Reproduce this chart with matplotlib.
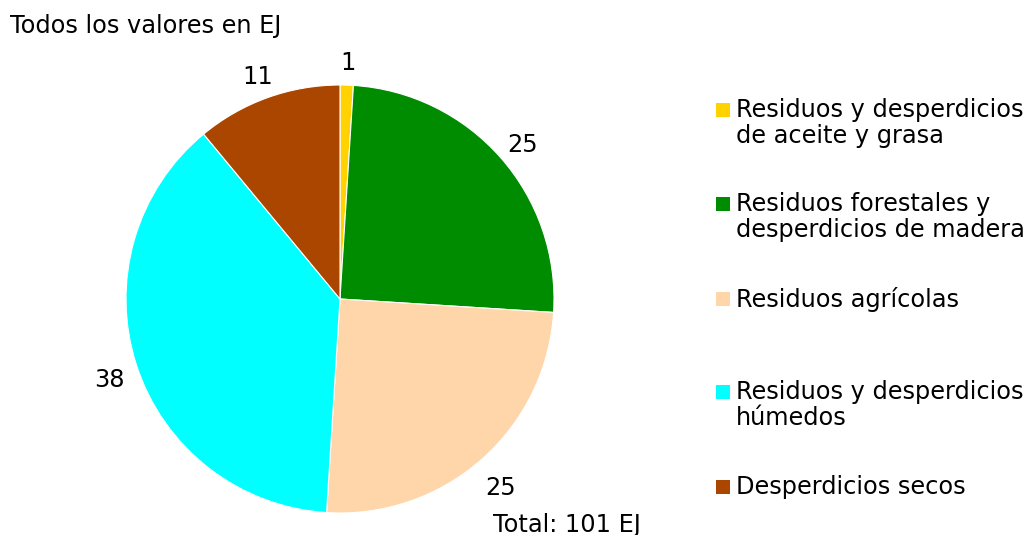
import matplotlib
matplotlib.use('Agg')
import matplotlib.pyplot as plt
from matplotlib.patches import Rectangle

plt.rcParams['font.family'] = ['DejaVu Sans']

categorias = ['Residuos y desperdicios\nde aceite y grasa',
              'Residuos forestales y\ndesperdicios de madera',
              'Residuos agrícolas',
              'Residuos y desperdicios\nhúmedos',
              'Desperdicios secos']
valores = [1, 25, 25, 38, 11]
colores = ['#FFD200', '#008C00', '#FFD5AA', '#00FFFF', '#AA4600']
leyenda_y = [110, 204, 299, 392, 487]  # first-line centre, pixels from top

FS = 17.3
W, H = 1026, 535
fig = plt.figure(figsize=(W / 100, H / 100), dpi=100)

# pie axes: centre (340, 299), radius 214 px
cx, cy, r = 340, 299, 214
ax = fig.add_axes([(cx - r) / W, (H - cy - r) / H, 2 * r / W, 2 * r / H])
wedges, texts = ax.pie(valores, colors=colores, startangle=90, counterclock=False,
                       labels=[str(v) for v in valores], labeldistance=1.135,
                       wedgeprops=dict(edgecolor='white', linewidth=0.8),
                       textprops=dict(fontsize=FS, color='black'))
for t in texts:
    t.set_ha('center')
    x, y = t.get_position()
    t.set_position((x, y - 0.03))
ax.set_xlim(-1, 1)
ax.set_ylim(-1, 1)
ax.set_aspect('equal')
ax.axis('off')

fig.text(10 / W, 1 - 26 / H, 'Todos los valores en EJ', fontsize=FS, va='center', ha='left')
fig.text(493 / W, 1 - 525 / H, 'Total: 101 EJ', fontsize=FS, va='center', ha='left')

# legend drawn by hand
for lab, col, y in zip(categorias, colores, leyenda_y):
    sq = 14
    fig.patches.append(Rectangle((716 / W, 1 - (y + sq / 2) / H), sq / W, sq / H,
                                 transform=fig.transFigure, facecolor=col, edgecolor='none'))
    fig.text(736 / W, 1 - (y - 12) / H, lab, fontsize=FS, va='top', ha='left',
             linespacing=1.12)

fig.savefig('out.png', dpi=100)
